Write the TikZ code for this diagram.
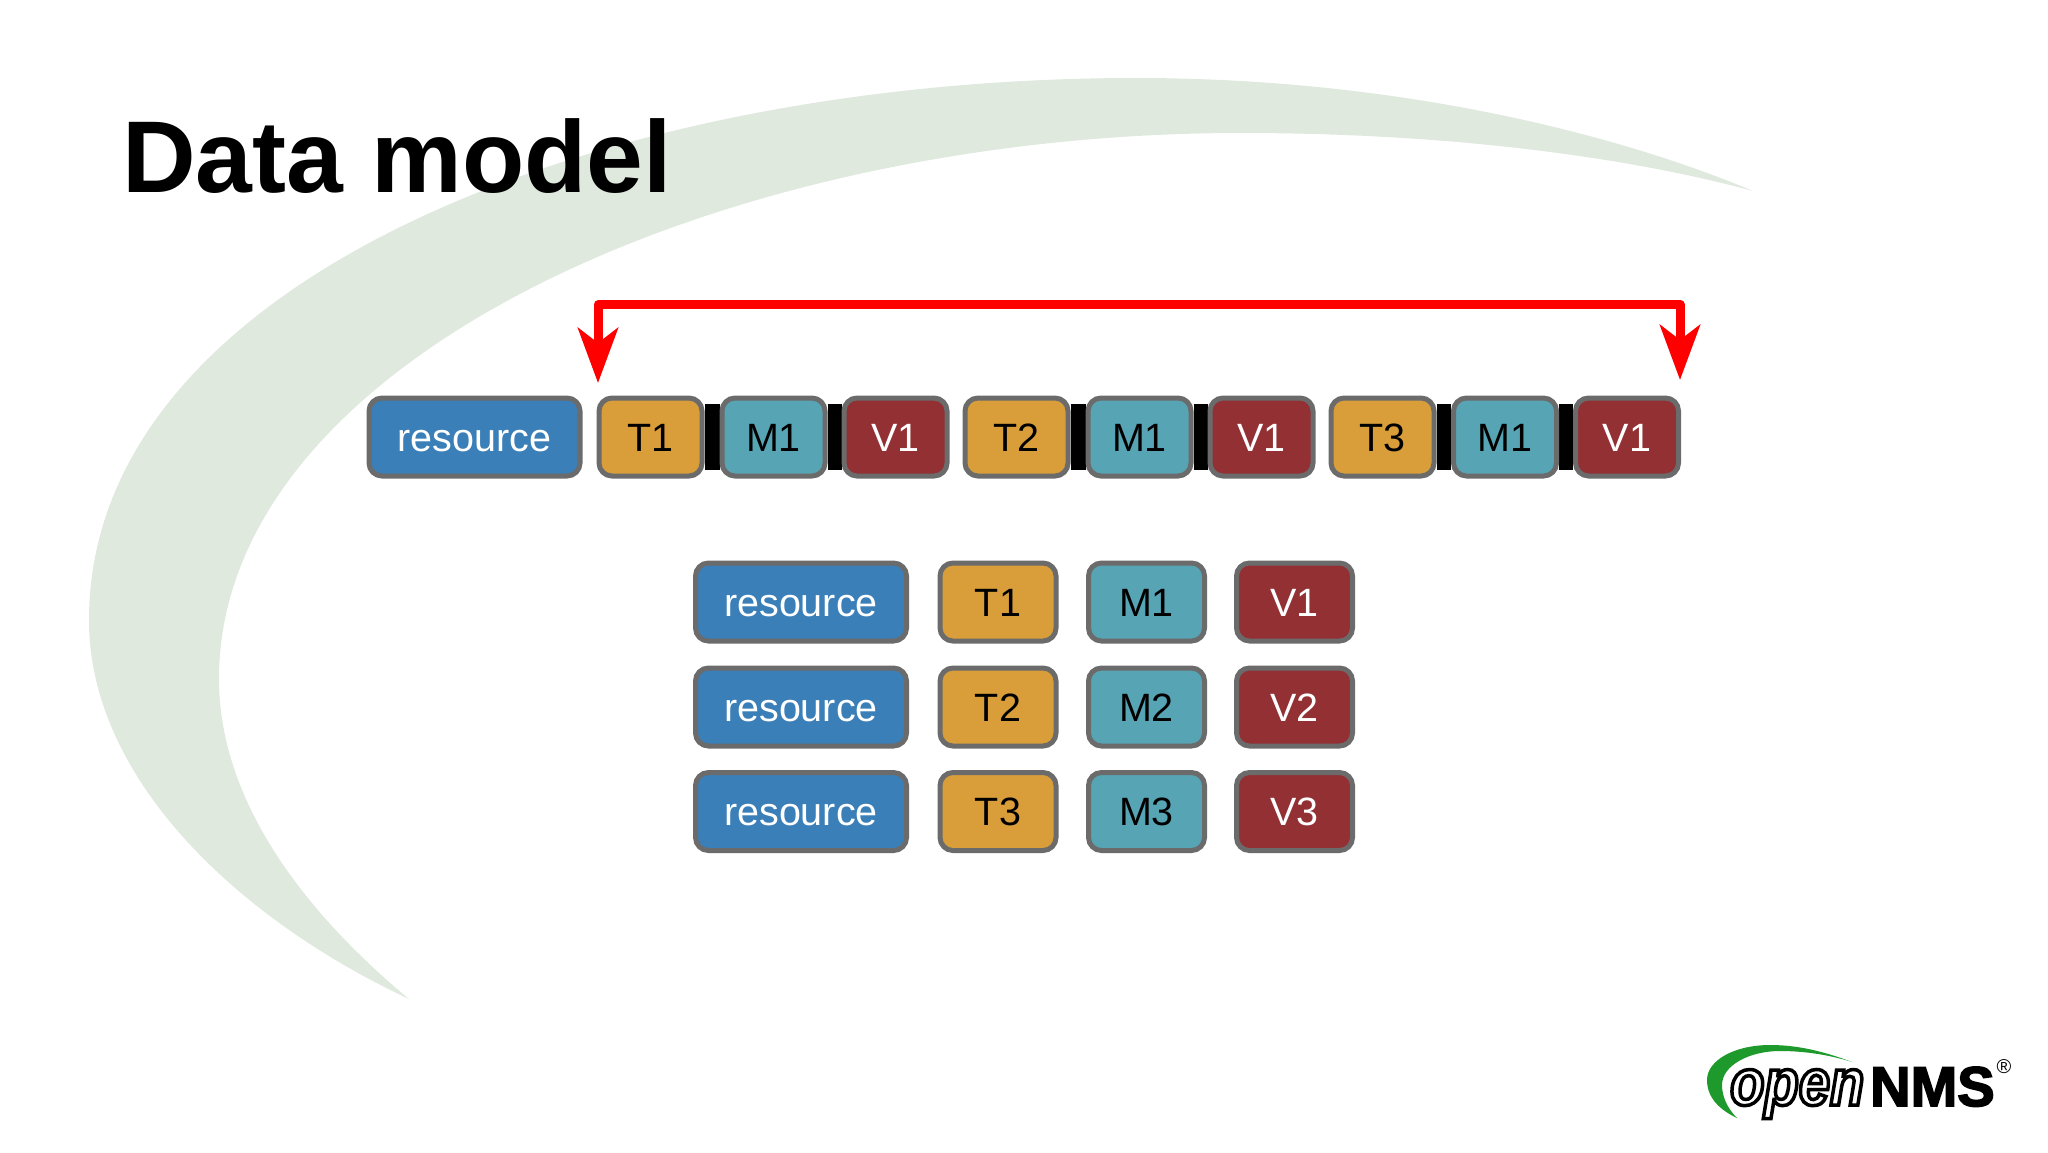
\documentclass[tikz,border=0pt]{standalone}
\usepackage{fontspec}
\setmainfont{Liberation Sans}
\newfontfamily\logofont[FakeStretch=.85]{Liberation Sans}
\newfontfamily\nmsfont[FakeBold=3]{Liberation Sans}
\usetikzlibrary{backgrounds}
\usetikzlibrary{arrows.meta}
\definecolor{resblue}{HTML}{3B7FB8}
\definecolor{tgold}{HTML}{D99E3A}
\definecolor{mteal}{HTML}{57A4B5}
\definecolor{vred}{HTML}{923034}
\definecolor{rim}{HTML}{6B6B6B}
\definecolor{swoosh}{HTML}{DFE9DE}
\definecolor{logogreen}{HTML}{1E9A2C}
\tikzset{
  cell/.style={draw=rim,line width=5pt,rounded corners=13pt,minimum height=78pt,inner sep=0pt,text height=28pt,text depth=0pt,font=\fontsize{39.5}{41}\selectfont},
  res/.style={cell,fill=resblue,text=white,minimum width=211pt},
  ttag/.style={cell,fill=tgold,minimum width=#1},
  mtag/.style={cell,fill=mteal,minimum width=#1},
  vtag/.style={cell,fill=vred,text=white,minimum width=#1},
  bar/.style={line width=66pt,black},
  jump/.style={draw=red,line width=9pt,-{Stealth[length=55pt,width=40pt,inset=15pt]}}
}
\begin{document}
\begin{tikzpicture}[x=1pt,y=-1pt]
\useasboundingbox (0,0) rectangle (2048,1152);
\fill[swoosh] (1753,191) .. controls (1620,135) and (1400,78) .. (1136,78)
  .. controls (600,78) and (89,280) .. (89,620)
  .. controls (89,780) and (240,920) .. (409,999)
  .. controls (290,900) and (219,790) .. (219,679)
  .. controls (219,360) and (720,133) .. (1241,133)
  .. controls (1440,133) and (1620,155) .. (1753,191) -- cycle;
\node[font=\fontsize{102}{104}\selectfont\bfseries,anchor=base west,inner sep=0pt] (title) at (122,192.5) {Data model};
% top row
\node[res] (r) at (474.5,437) {resource};
\node[ttag=103pt] (t1) at (650.5,437) {T1};
\node[mtag=103pt] (m1) at (773.5,437) {M1};
\node[vtag=103pt] (v1) at (895.5,437) {V1};
\node[ttag=103pt] (t2) at (1016.5,437) {T2};
\node[mtag=103pt] (m2) at (1139.5,437) {M1};
\node[vtag=103pt] (v2) at (1261.5,437) {V1};
\node[ttag=103pt] (t3) at (1382.5,437) {T3};
\node[mtag=103pt] (m3) at (1505,437) {M1};
\node[vtag=103pt] (v3) at (1627,437) {V1};
\begin{pgfonlayer}{background}
\draw[bar] (t1) -- (m1);
\draw[bar] (m1) -- (v1);
\draw[bar] (t2) -- (m2);
\draw[bar] (m2) -- (v2);
\draw[bar] (t3) -- (m3);
\draw[bar] (m3) -- (v3);
\end{pgfonlayer}
% table
\node[res] (ra) at (801,602) {resource};
\node[res] (rb) at (801,707) {resource};
\node[res] (rc) at (801,811.5) {resource};
\node[ttag=116pt] (ta) at (998,602) {T1};
\node[ttag=116pt] (tb) at (998,707) {T2};
\node[ttag=116pt] (tc) at (998,811.5) {T3};
\node[mtag=116pt] (ma) at (1146.5,602) {M1};
\node[mtag=116pt] (mb) at (1146.5,707) {M2};
\node[mtag=116pt] (mc) at (1146.5,811.5) {M3};
\node[vtag=116pt] (va) at (1294.5,602) {V1};
\node[vtag=116pt] (vb) at (1294.5,707) {V2};
\node[vtag=116pt] (vc) at (1294.5,811.5) {V3};
% red arrows
\coordinate (tipa) at (598,383);
\coordinate (tipb) at (1680,380);
\coordinate (topa) at (598,304.5);
\coordinate (topb) at (1680,304.5);
\draw[draw=red,line width=9pt,line join=round] (tipa |- 0,340) -- (topa) -- (topb) -- (tipb |- 0,340);
\draw[jump] (topa) -- (tipa);
\draw[jump] (topb) -- (tipb);
% logo
\fill[logogreen] (1852,1062) .. controls (1815,1048) and (1790,1045) .. (1770,1045)
  .. controls (1735,1045) and (1707,1060) .. (1707,1080)
  .. controls (1707,1098) and (1720,1110) .. (1737,1118)
  .. controls (1727,1108) and (1722,1096) .. (1722,1085)
  .. controls (1722,1065) and (1750,1051) .. (1780,1051)
  .. controls (1805,1051) and (1830,1055) .. (1852,1062) -- cycle;
\node[font=\fontsize{66}{66}\logofont\bfseries\itshape,text=white,inner sep=0pt,anchor=base west] (open) at (1730,1105) {\special{pdf:code 2 Tr 3.5 w 0 0 0 RG}open\special{pdf:code 0 Tr}};
\node[font=\fontsize{56}{58}\nmsfont\bfseries,anchor=base west,inner sep=0pt] (nms) at (1870,1106) {NMS};
\node[font=\fontsize{20}{20}\selectfont,inner sep=0pt] (reg) at (2004,1067) {®};
\end{tikzpicture}
\end{document}
